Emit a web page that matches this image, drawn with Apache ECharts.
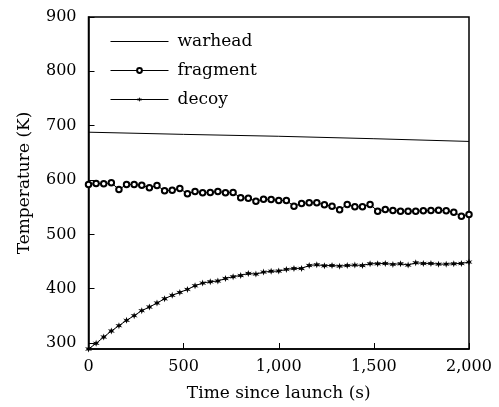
<!DOCTYPE html>
<html lang="en">
<head>
    <meta charset="UTF-8">
    <title>Temperature</title>
    <script src="https://cdn.jsdelivr.net/npm/echarts@6.0.0/dist/echarts.min.js"></script>
</head>
<body style="margin:0;background:#fff;">
<div id="chart" style="width:499px;height:407px;"></div>
<script>
    // time axis, one sample every 40 s
    var times = [];
    for (var t = 0; t <= 2000; t += 40) times.push(t);

    var warheadTimes = [0, 500, 1000, 1500, 2000];
    var warhead = [688, 684, 680.5, 676, 671];

    var fragment = [591.7, 593.6, 593, 594.9, 582.5, 591.7, 591.7, 590.4, 585.7, 589.9,
        580.1, 581.3, 584.4, 574.6, 578.9, 576.5, 577, 578.9, 576.5, 577,
        567.3, 566.5, 561, 564.7, 564.2, 562.3, 562.3, 551.8, 556.8, 558.1,
        558.1, 554.4, 551.8, 545.2, 555, 550.7, 550.7, 555, 542.6, 545.8,
        543.9, 542.6, 542.6, 542.6, 543.4, 543.9, 544.5, 543.4, 540.8, 533.5, 536.6];

    var decoy = [289, 299.4, 311, 322, 332, 341.7, 350.4, 359.6, 366.2, 373.5,
        381.6, 387.7, 393.2, 398.7, 405.5, 410.3, 412.9, 414, 418.9, 422.1,
        424.4, 428.1, 426.8, 430.5, 432, 432.4, 435.5, 437.3, 437.3, 442.8,
        444.1, 442.3, 442.8, 441.5, 442.8, 443.4, 442.8, 446, 446, 446.5,
        444.7, 446, 443.4, 447.8, 446.5, 446.5, 445.2, 445.2, 446, 446.5, 448.9];

    var yTicks = [300, 400, 500, 600, 700, 800, 900];

    var font = 'DejaVu Serif';
    var star = 'path://M10 0 L12 6.54 L18.66 5 L14 10 L18.66 15 L12 13.46 L10 20 L8 13.46 L1.34 15 L6 10 L1.34 5 L8 6.54 Z';

    function pairs(xs, ys) {
        return ys.map(function (v, i) { return [xs[i], v]; });
    }

    var chart = echarts.init(document.getElementById('chart'));
    var option = {
        animation: false,
        backgroundColor: '#fff',
        grid: {
            left: 88.5, right: 30, top: 17, bottom: 57,
            show: true, borderColor: '#000', borderWidth: 1.5
        },
        legend: {
            left: 110, top: 33, padding: 0,
            orient: 'vertical',
            itemWidth: 58, itemHeight: 6, itemGap: 12,
            lineStyle: {width: 1},
            textStyle: {fontFamily: font, fontSize: 17, color: '#000', padding: [0, 0, 0, 4]},
            data: [
                {name: 'warhead', itemStyle: {opacity: 0}},
                'fragment',
                'decoy'
            ]
        },
        xAxis: {
            type: 'value', min: 0, max: 2000, interval: 500,
            name: 'Time since launch (s)', nameLocation: 'middle', nameGap: 36,
            nameTextStyle: {fontFamily: font, fontSize: 17, color: '#000'},
            axisLine: {lineStyle: {color: '#000', width: 1.5}},
            axisTick: {inside: true, length: 6, lineStyle: {color: '#000'}},
            axisLabel: {fontFamily: font, fontSize: 16, color: '#000', margin: 10,
                formatter: function (v) { return v.toLocaleString('en-US'); }},
            splitLine: {show: false}
        },
        yAxis: {
            type: 'value', min: 289, max: 900,
            name: 'Temperature (K)', nameLocation: 'middle', nameGap: 55,
            nameTextStyle: {fontFamily: font, fontSize: 17, color: '#000'},
            axisLine: {lineStyle: {color: '#000', width: 1.5}},
            axisTick: {inside: true, length: 6, lineStyle: {color: '#000'}, customValues: yTicks},
            axisLabel: {fontFamily: font, fontSize: 16, color: '#000', margin: 12, customValues: yTicks},
            splitLine: {show: false}
        },
        series: [{
            name: 'warhead', type: 'line',
            data: pairs(warheadTimes, warhead),
            showSymbol: false, symbol: 'none',
            lineStyle: {color: '#000', width: 1},
            itemStyle: {color: '#000'}
        }, {
            name: 'fragment', type: 'line',
            data: pairs(times, fragment),
            symbol: 'emptyCircle', symbolSize: 5.5, showAllSymbol: true,
            lineStyle: {color: '#000', width: 1},
            itemStyle: {color: '#000', borderColor: '#000', borderWidth: 0.7}
        }, {
            name: 'decoy', type: 'line',
            data: pairs(times, decoy),
            symbol: star, symbolSize: 7, showAllSymbol: true,
            lineStyle: {color: '#000', width: 1},
            itemStyle: {color: '#000'}
        }]
    };
    chart.setOption(option);
</script>
</body>
</html>
